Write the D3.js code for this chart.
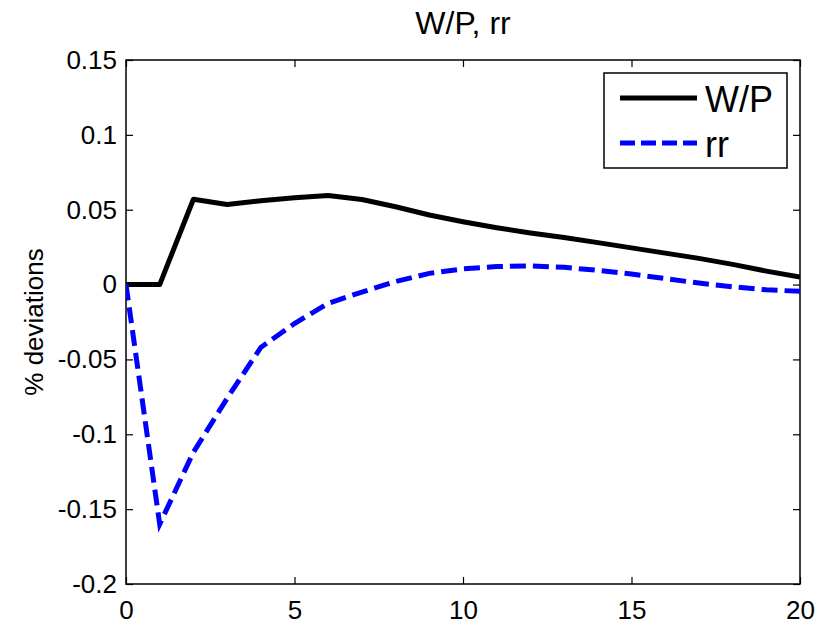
<!DOCTYPE html>
<html>
<head>
<meta charset="utf-8">
<script src="https://cdn.jsdelivr.net/npm/d3@7"></script>
<style>
  body { margin: 0; background: #fff; }
  svg { display: block; font-family: 'Liberation Sans', Arial, sans-serif; }
</style>
</head>
<body>
<div id="chart"></div>
<script>
// periods 0..20
const periods = d3.range(0, 21);
const wpValues = [0, 0, 0.057, 0.0535, 0.056, 0.058, 0.0595, 0.0568, 0.052, 0.0465, 0.042,
  0.038, 0.0345, 0.0315, 0.028, 0.0245, 0.021, 0.0175, 0.0135, 0.009, 0.005];
const rrValues = [0, -0.16, -0.112, -0.076, -0.042, -0.026, -0.0125, -0.005, 0.002, 0.0075, 0.0105,
  0.012, 0.0125, 0.0115, 0.0095, 0.007, 0.004, 0.001, -0.0015, -0.0035, -0.0045];
const xTicks = [0, 5, 10, 15, 20];
const yTicks = [0.15, 0.1, 0.05, 0, -0.05, -0.1, -0.15, -0.2];
const yTickLabels = ['0.15', '0.1', '0.05', '0', '-0.05', '-0.1', '-0.15', '-0.2'];
const seriesNames = ['W/P', 'rr'];

const width = 826, height = 625;
const margin = { top: 60, right: 26, bottom: 41, left: 126 };
const innerW = width - margin.left - margin.right;
const innerH = height - margin.top - margin.bottom;

const svg = d3.select('#chart').append('svg')
  .attr('width', width)
  .attr('height', height);

const x = d3.scaleLinear().domain([0, 20]).range([0, innerW]);
const y = d3.scaleLinear().domain([-0.2, 0.15]).range([innerH, 0]);

const g = svg.append('g')
  .attr('transform', `translate(${margin.left},${margin.top})`);

// clip for lines
g.append('clipPath').attr('id', 'clip')
  .append('rect').attr('width', innerW).attr('height', innerH);

const tickLen = 7;
const tickFmt = d => yTickLabels[yTicks.indexOf(d)];

// bottom axis, ticks pointing inward
g.append('g')
  .attr('transform', `translate(0,${innerH})`)
  .call(d3.axisBottom(x).tickValues(xTicks).tickSize(-tickLen).tickPadding(17).tickFormat(d3.format('d')))
  .call(a => a.select('.domain').remove())
  .selectAll('text').attr('font-size', 26).attr('fill', '#000');

// top axis (no labels)
g.append('g')
  .call(d3.axisTop(x).tickValues(xTicks).tickSize(-tickLen).tickFormat(''))
  .call(a => a.select('.domain').remove());

// left axis
g.append('g')
  .call(d3.axisLeft(y).tickValues(yTicks).tickSize(-tickLen).tickPadding(9).tickFormat(tickFmt))
  .call(a => a.select('.domain').remove())
  .selectAll('text').attr('font-size', 26).attr('fill', '#000');

// right axis (no labels)
g.append('g')
  .attr('transform', `translate(${innerW},0)`)
  .call(d3.axisRight(y).tickValues(yTicks).tickSize(-tickLen).tickFormat(''))
  .call(a => a.select('.domain').remove());

g.selectAll('.tick line').attr('stroke', '#000').attr('stroke-width', 1.2);

// box
g.append('rect')
  .attr('width', innerW).attr('height', innerH)
  .attr('fill', 'none').attr('stroke', '#000').attr('stroke-width', 1.5);

const line = d3.line()
  .x((d, i) => x(periods[i]))
  .y(d => y(d));

const plot = g.append('g').attr('clip-path', 'url(#clip)');

plot.append('path')
  .datum(wpValues)
  .attr('d', line)
  .attr('fill', 'none')
  .attr('stroke', '#000')
  .attr('stroke-width', 5)
  .attr('stroke-linejoin', 'round');

plot.append('path')
  .datum(rrValues)
  .attr('d', line)
  .attr('fill', 'none')
  .attr('stroke', '#0000ff')
  .attr('stroke-width', 5)
  .attr('stroke-dasharray', '16,7');

// title
svg.append('text')
  .attr('x', margin.left + innerW / 2)
  .attr('y', 34)
  .attr('text-anchor', 'middle')
  .attr('font-size', 32)
  .text('W/P, rr');

// y label
svg.append('text')
  .attr('transform', `translate(43,${margin.top + innerH / 2}) rotate(-90)`)
  .attr('text-anchor', 'middle')
  .attr('font-size', 26)
  .text('% deviations');

// legend
const legend = svg.append('g').attr('transform', 'translate(604,73)');
legend.append('rect')
  .attr('width', 183).attr('height', 95)
  .attr('fill', '#fff').attr('stroke', '#000').attr('stroke-width', 1.5);

const legendStyles = [
  { color: '#000', dash: null },
  { color: '#0000ff', dash: '15,6' },
];
seriesNames.forEach((name, i) => {
  const ly = 25 + i * 45;
  legend.append('line')
    .attr('x1', 16).attr('x2', 93)
    .attr('y1', ly).attr('y2', ly)
    .attr('stroke', legendStyles[i].color)
    .attr('stroke-width', 5)
    .attr('stroke-dasharray', legendStyles[i].dash);
  legend.append('text')
    .attr('x', 101)
    .attr('y', ly + 14)
    .attr('font-size', 36)
    .text(name);
});
</script>
</body>
</html>
